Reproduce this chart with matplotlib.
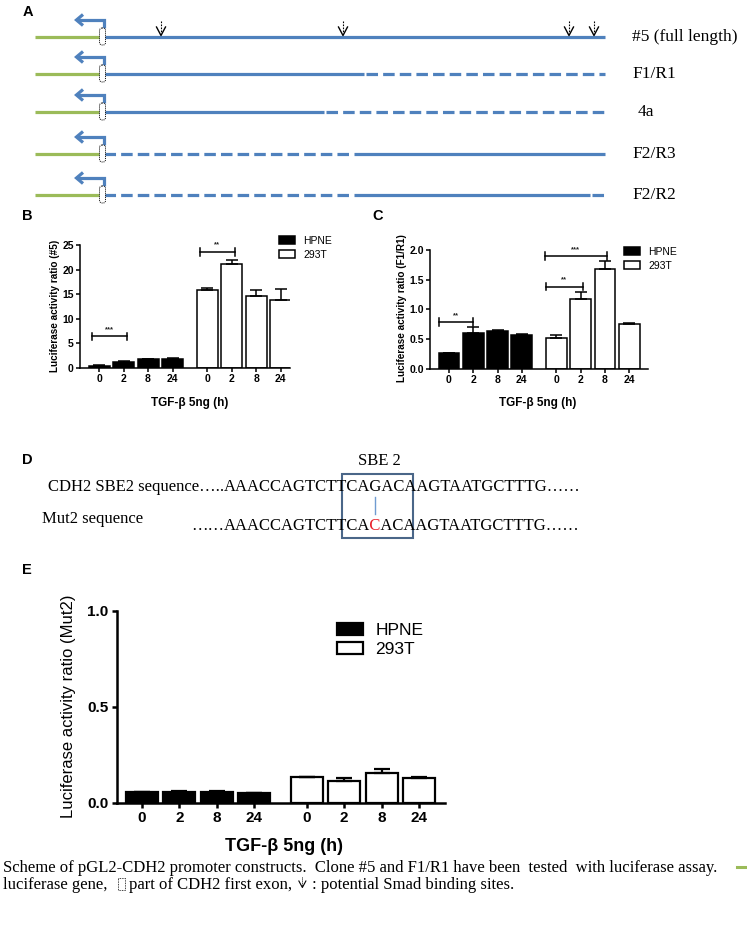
import matplotlib
matplotlib.use('Agg')
import matplotlib.pyplot as plt
from matplotlib.patches import FancyBboxPatch, Rectangle, Patch
from matplotlib.transforms import Bbox
import numpy as np

# ---------------- data ----------------
time_labels = ['0', '2', '8', '24']
cell_lines = ['HPNE', '293T']

# Panel B: clone #5
b_hpne = [0.45, 1.3, 1.8, 1.8]
b_hpne_err = [0.1, 0.1, 0.1, 0.3]
b_293t = [15.8, 21.1, 14.7, 13.8]
b_293t_err = [0.5, 0.8, 1.2, 2.2]

# Panel C: F1/R1
c_hpne = [0.265, 0.61, 0.64, 0.575]
c_hpne_err = [0.005, 0.10, 0.02, 0.01]
c_293t = [0.52, 1.18, 1.68, 0.755]
c_293t_err = [0.045, 0.12, 0.13, 0.01]

# Panel E: Mut2
e_hpne = [0.055, 0.059, 0.057, 0.050]
e_hpne_err = [0.003, 0.002, 0.003, 0.002]
e_293t = [0.133, 0.115, 0.156, 0.132]
e_293t_err = [0.004, 0.015, 0.020, 0.004]

constructs = ['#5 (full length)', 'F1/R1', '4a', 'F2/R3', 'F2/R2']
seq_wt = 'AAACCAGTCTTCAGACAAGTAATGCTTTG'
seq_mut_pre, seq_mut_base, seq_mut_post = 'AAACCAGTCTTCA', 'C', 'ACAAGTAATGCTTTG'

# ---------------- setup ----------------
W, H = 747, 925
SANS = 'Liberation Sans'
SERIF = 'Liberation Serif'
GREEN = '#9BBB59'
BLUE = '#4F81BD'
PX = 0.72  # points per pixel at dpi 100

fig = plt.figure(figsize=(W / 100, H / 100), dpi=100, facecolor='white')
ov = fig.add_axes([0, 0, 1, 1], zorder=0)
ov.set_xlim(0, W)
ov.set_ylim(H, 0)
ov.axis('off')
renderer = fig.canvas.get_renderer()

def ext(t):
    bb = t.get_window_extent(renderer)
    return bb.x0, bb.x1, H - bb.y1, H - bb.y0

# panel letters
for letter, (lx, ly) in zip('ABCDE', [(23, 12), (22, 216), (372, 216), (22, 460), (22, 570)]):
    ov.text(lx, ly, letter, fontfamily=SANS, fontweight='bold', fontsize=10.5, va='center', ha='left')

# ---------------- Panel A: scheme ----------------
row_y = [37, 74, 112, 154, 195]
segments = [
    [(104, 605, '-')],
    [(104, 364, '-'), (366, 605, '--')],
    [(104, 324, '-'), (326, 605, '--')],
    [(104, 352, '--'), (354, 605, '-')],
    [(104, 352, '--'), (354, 590, '-'), (592, 605, '--')],
]
label_x = [632, 632, 638, 632, 632]
dash = (0, (3.6, 1.6))
for y, segs, name, lx in zip(row_y, segments, constructs, label_x):
    ov.plot([35, 101], [y, y], color=GREEN, lw=3.2 * PX, solid_capstyle='butt')
    for x0, x1, st in segs:
        ov.plot([x0, x1], [y, y], color=BLUE, lw=3.2 * PX,
                ls='-' if st == '-' else dash, solid_capstyle='butt', dash_capstyle='butt')
    # promoter arrow
    ov.plot([104, 104, 77], [y - 9, y - 17, y - 17], color=BLUE, lw=3.2 * PX,
            solid_joinstyle='miter', solid_capstyle='butt')
    ov.plot([83, 76.5, 83], [y - 22.5, y - 17, y - 11.5], color=BLUE, lw=3.2 * PX,
            solid_joinstyle='miter', solid_capstyle='butt')
    # exon box
    ov.add_patch(FancyBboxPatch((99.5, y - 9), 6, 17, boxstyle='round,pad=0,rounding_size=2.5',
                                fc='white', ec='black', lw=0.7, ls=(0, (1, 1)), zorder=3))
    ov.text(lx, y, name, fontfamily=SERIF, fontsize=12.5, va='center', ha='left')

# Smad binding site arrows
for sx in [161, 343, 569, 594]:
    ov.plot([sx, sx], [21, 33], color='black', lw=0.8, ls=(0, (1.5, 1.2)))
    ov.plot([sx - 4.5, sx, sx + 4.5], [27, 35.5, 27], color='black', lw=1.0)

# ---------------- bar panels ----------------
grp_gap = 0.42
x_h = np.arange(4, dtype=float)
x_t = np.arange(4) + 4 + grp_gap


def bar_panel(rect_px, xlim, ylim, yticks, yfmt, hpne, hpne_err, t293, t293_err,
              sty, ylabel, ylab_xy, xlab_xy, leg_xy, brackets):
    l, t, r, b = rect_px
    ax = fig.add_axes([l / W, 1 - b / H, (r - l) / W, (b - t) / H], zorder=2)
    ax.set_facecolor('none')
    lw = sty['lw']
    ax.bar(x_h, hpne, width=0.86, color='black', edgecolor='black', lw=lw, zorder=2)
    ax.bar(x_t, t293, width=0.86, color='white', edgecolor='black', lw=lw, zorder=2)
    ax.errorbar(x_h, hpne, yerr=[np.zeros(4), hpne_err], fmt='none', ecolor='black',
                elinewidth=lw, capsize=sty['cap'], capthick=lw, zorder=3)
    ax.errorbar(x_t, t293, yerr=[np.zeros(4), t293_err], fmt='none', ecolor='black',
                elinewidth=lw, capsize=sty['cap'], capthick=lw, zorder=3)
    ax.set_xlim(*xlim)
    ax.set_ylim(*ylim)
    ax.set_yticks(yticks)
    ax.set_yticklabels([yfmt.format(v) for v in yticks])
    ax.set_xticks(np.r_[x_h, x_t])
    ax.set_xticklabels(time_labels * 2)
    for s in ['top', 'right']:
        ax.spines[s].set_visible(False)
    for s in ['left', 'bottom']:
        ax.spines[s].set_linewidth(sty['spine'])
    ax.tick_params(axis='both', length=sty['tick'], width=sty['spine'], pad=sty['pad'],
                   labelsize=sty['tfs'])
    for lab in ax.get_xticklabels() + ax.get_yticklabels():
        lab.set_fontfamily(SANS)
        lab.set_fontweight('bold')
    ax.set_ylabel(ylabel, fontfamily=SANS, fontsize=sty['yfs'], fontweight=sty['yw'])
    ax.yaxis.set_label_coords(*ylab_xy)
    ax.yaxis.label.set_va('center')
    ax.set_xlabel('TGF-\u03b2 5ng (h)', fontfamily=SANS, fontsize=sty['xfs'], fontweight='bold')
    ax.xaxis.set_label_coords(*xlab_xy)
    ax.xaxis.label.set_va('center')
    handles = [Patch(fc='black', ec='black', lw=lw), Patch(fc='white', ec='black', lw=lw)]
    ax.legend(handles, cell_lines, loc='upper left', bbox_to_anchor=(leg_xy[0] / W, 1 - leg_xy[1] / H),
              bbox_transform=fig.transFigure, frameon=False, borderpad=0, borderaxespad=0,
              handlelength=sty['hl'], handleheight=sty['hh'], handletextpad=sty['htp'],
              labelspacing=sty['ls'], prop=dict(family=SANS, size=sty['lfs']))
    for x1, x2, yb, txt in brackets:
        dh = sty['bh'] * (ylim[1] - ylim[0])
        ax.plot([x1, x2], [yb, yb], color='black', lw=lw, clip_on=False)
        ax.plot([x1, x1], [yb - dh, yb + dh], color='black', lw=lw, clip_on=False)
        ax.plot([x2, x2], [yb - dh, yb + dh], color='black', lw=lw, clip_on=False)
        ax.text((x1 + x2) / 2, yb + sty['st'] * (ylim[1] - ylim[0]), txt, ha='center', va='center',
                fontsize=sty['sfs'], fontfamily=SANS, fontweight='bold', color='#222222')
    return ax


small = dict(lw=1.1, cap=4.0, spine=1.1, tick=3, pad=1.5, tfs=7.5, yfs=7.2, yw='bold', xfs=8.5,
             hl=1.5, hh=0.8, htp=0.8, ls=0.35, lfs=7.5, bh=0.03, st=0.055, sfs=5.5)
big = dict(lw=1.6, cap=5.5, spine=1.8, tick=3.6, pad=2.5, tfs=11, yfs=12, yw='normal', xfs=13,
           hl=1.5, hh=0.65, htp=0.7, ls=0.25, lfs=12.5, bh=0.03, st=0.05, sfs=8)

# Panel B
bar_panel((80, 245, 290, 368), (-0.78, 7.8), (0, 25), [0, 5, 10, 15, 20, 25], '{:g}',
          b_hpne, b_hpne_err, b_293t, b_293t_err, small,
          'Luciferase activity ratio (#5)', (-0.119, 0.504), (0.524, -0.285), (279, 236),
          [(-0.29, 1.14, 6.45, '***'), (4.12, 5.55, 23.6, '**')])

# Panel C
bar_panel((430, 250, 648, 369), (-0.78, 8.19), (0, 2.0), [0, 0.5, 1.0, 1.5, 2.0], '{:.1f}',
          c_hpne, c_hpne_err, c_293t, c_293t_err, small,
          'Luciferase activity ratio (F1/R1)', (-0.128, 0.51), (0.495, -0.286), (624, 247),
          [(-0.41, 0.99, 0.79, '**'), (3.99, 5.51, 1.385, '**'), (3.95, 6.5, 1.90, '***')])

# Panel E
bar_panel((117, 611, 445, 803), (-0.67, 8.12), (0, 1.0), [0, 0.5, 1.0], '{:.1f}',
          e_hpne, e_hpne_err, e_293t, e_293t_err, big,
          'Luciferase activity ratio (Mut2)', (-0.149, 0.505), (0.509, -0.229), (337, 623), [])

# ---------------- Panel D: sequences ----------------
DFS = 12
seq_x = 224
y1, y2 = 487, 526
ov.text(seq_x, y1, 'CDH2 SBE2 sequence\u2026..', fontfamily=SERIF, fontsize=DFS, ha='right', va='center')
ov.text(seq_x, y1, seq_wt + '\u2026\u2026', fontfamily=SERIF, fontsize=DFS, ha='left', va='center')
ov.text(42, 519, 'Mut2 sequence', fontfamily=SERIF, fontsize=DFS, ha='left', va='center')
ov.text(seq_x, y2, '\u2026\u2026', fontfamily=SERIF, fontsize=DFS, ha='right', va='center')
mut_full = seq_mut_pre + seq_mut_base + seq_mut_post + '\u2026\u2026'


def ink_right(s):
    """Rightmost inked pixel column of string s drawn like the mutant line."""
    f2 = plt.figure(figsize=(W / 100, H / 100), dpi=100, facecolor='white')
    a2 = f2.add_axes([0, 0, 1, 1])
    a2.set_xlim(0, W)
    a2.set_ylim(H, 0)
    a2.axis('off')
    a2.text(seq_x, y2, s, fontfamily=SERIF, fontsize=DFS, ha='left', va='center')
    f2.canvas.draw()
    arr = np.asarray(f2.canvas.buffer_rgba())[:, :, :3].astype(int)
    band = arr[y2 - 14:y2 + 14].min(axis=2)
    cols = np.where((band < 200).any(axis=0))[0]
    plt.close(f2)
    return cols.max()


jA = ink_right(seq_mut_pre)
jC = ink_right(seq_mut_pre + seq_mut_base)
bL, bR = jA + 1, jC + 1
tb1 = ov.text(seq_x, y2, mut_full, fontfamily=SERIF, fontsize=DFS, ha='left', va='center')
tb1.set_clip_on(True); tb1.set_clip_path(None); tb1.set_clip_box(Bbox([[0, 0], [bL, H]]))
tr = ov.text(seq_x, y2, mut_full, fontfamily=SERIF, fontsize=DFS, ha='left', va='center', color='#E8202A')
tr.set_clip_on(True); tr.set_clip_path(None); tr.set_clip_box(Bbox([[bL, 0], [bR, H]]))
tb2 = ov.text(seq_x, y2, mut_full, fontfamily=SERIF, fontsize=DFS, ha='left', va='center')
tb2.set_clip_on(True); tb2.set_clip_path(None); tb2.set_clip_box(Bbox([[bR, 0], [W, H]]))

cx = (bL + bR) / 2
ov.add_patch(Rectangle((cx - 33, 474), 71, 64, fill=False, ec='#4A6688', lw=1.5))
ov.plot([cx, cx], [497, 514], color='#6F9BD1', lw=1.0)
ov.text(cx + 4.5, 461, 'SBE 2', fontfamily=SERIF, fontsize=12, ha='center', va='center')

# ---------------- caption ----------------
CFS = 12
ov.text(3, 868, 'Scheme of pGL2-CDH2 promoter constructs.  Clone #5 and F1/R1 have been  tested  with luciferase assay.',
        fontfamily=SERIF, fontsize=CFS, ha='left', va='center')
ov.plot([737, 745], [867, 867], color=GREEN, lw=2.2)
c1 = ov.text(3, 885, 'luciferase gene,', fontfamily=SERIF, fontsize=CFS, ha='left', va='center')
_, e1, _, _ = ext(c1)
bx = e1 + 11
ov.add_patch(Rectangle((bx, 878), 7, 12, fill=False, ec='black', lw=0.6, ls=(0, (1, 1))))
c2 = ov.text(bx + 11, 885, 'part of CDH2 first exon,', fontfamily=SERIF, fontsize=CFS, ha='left', va='center')
_, e2, _, _ = ext(c2)
ax_ = e2 + 10
ov.plot([ax_, ax_], [877, 886], color='black', lw=0.7, ls=(0, (1, 1)))
ov.plot([ax_ - 3.5, ax_, ax_ + 3.5], [881, 887.5, 881], color='black', lw=0.8)
ov.text(ax_ + 10, 885, ': potential Smad binding sites.', fontfamily=SERIF, fontsize=CFS, ha='left', va='center')

fig.savefig('out.png', dpi=100, facecolor='white')
